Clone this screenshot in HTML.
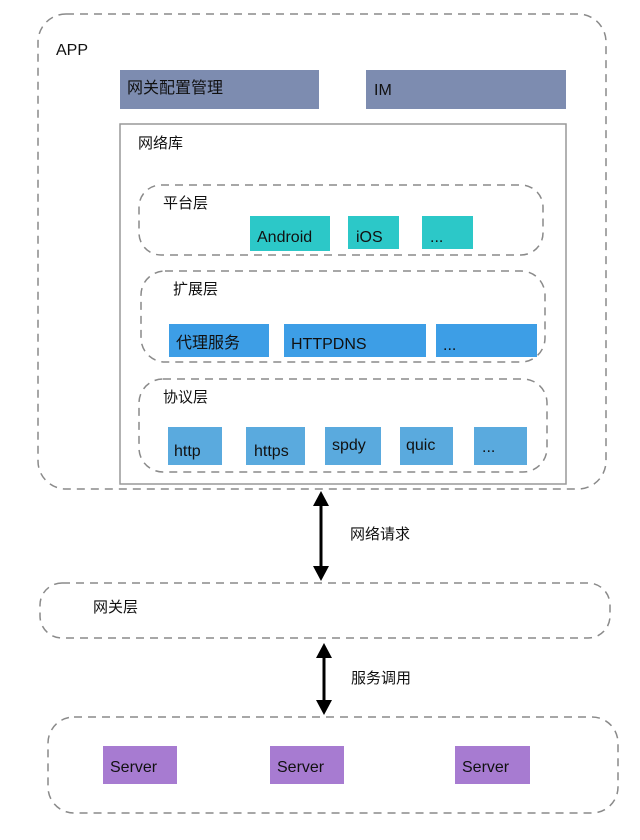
<!DOCTYPE html>
<html><head><meta charset="utf-8"><style>
body{margin:0;background:#fff;width:640px;height:835px;overflow:hidden;font-family:"Liberation Sans","Noto Sans CJK SC",sans-serif;}
</style></head><body>
<svg width="640" height="835" xmlns="http://www.w3.org/2000/svg" font-family="Liberation Sans, Noto Sans CJK SC, sans-serif">
<g fill="none" stroke="#8a8a8a" stroke-width="1.5" stroke-dasharray="8,6">
<rect x="38" y="14" width="568" height="475" rx="28"/>
<rect x="139" y="185" width="404" height="70" rx="22"/>
<rect x="141" y="271" width="404" height="91" rx="24"/>
<rect x="139" y="379" width="408" height="93" rx="24"/>
<rect x="40" y="583" width="570" height="55" rx="22"/>
<rect x="48" y="717" width="570" height="96" rx="26"/>
</g>
<rect x="120" y="124" width="446" height="360" fill="none" stroke="#999" stroke-width="1.5"/>
<text x="56" y="55" font-size="16" fill="#111">APP</text>
<rect x="120" y="70" width="199" height="39" fill="#7d8cb0"/>
<rect x="366" y="70" width="200" height="39" fill="#7d8cb0"/>
<text x="127" y="93" font-size="16" fill="#111">网关配置管理</text>
<text x="374" y="95" font-size="16" fill="#111">IM</text>
<text x="138" y="148" font-size="15" fill="#111">网络库</text>
<text x="163" y="208" font-size="15" fill="#111">平台层</text>
<rect x="250" y="216" width="80" height="35" fill="#2cc8c8"/>
<rect x="348" y="216" width="51" height="33" fill="#2cc8c8"/>
<rect x="422" y="216" width="51" height="33" fill="#2cc8c8"/>
<text x="257" y="242" font-size="16" fill="#111">Android</text>
<text x="356" y="242" font-size="16" fill="#111">iOS</text>
<text x="430" y="242" font-size="16" fill="#111">...</text>
<text x="173" y="294" font-size="15" fill="#111">扩展层</text>
<rect x="169" y="324" width="100" height="33" fill="#3d9ee6"/>
<rect x="284" y="324" width="142" height="33" fill="#3d9ee6"/>
<rect x="436" y="324" width="101" height="33" fill="#3d9ee6"/>
<text x="176" y="348" font-size="16" fill="#111">代理服务</text>
<text x="291" y="349" font-size="16" fill="#111">HTTPDNS</text>
<text x="443" y="350" font-size="16" fill="#111">...</text>
<text x="163" y="402" font-size="15" fill="#111">协议层</text>
<rect x="168" y="427" width="54" height="38" fill="#5aaade"/>
<rect x="246" y="427" width="59" height="38" fill="#5aaade"/>
<rect x="325" y="427" width="56" height="38" fill="#5aaade"/>
<rect x="400" y="427" width="53" height="38" fill="#5aaade"/>
<rect x="474" y="427" width="53" height="38" fill="#5aaade"/>
<text x="174" y="456" font-size="16" fill="#111">http</text>
<text x="254" y="456" font-size="16" fill="#111">https</text>
<text x="332" y="450" font-size="16" fill="#111">spdy</text>
<text x="406" y="450" font-size="16" fill="#111">quic</text>
<text x="482" y="452" font-size="16" fill="#111">...</text>
<line x1="321" y1="500" x2="321" y2="570" stroke="#000" stroke-width="3"/>
<polygon points="321,491 313,506 329,506" fill="#000"/>
<polygon points="321,581 313,566 329,566" fill="#000"/>
<text x="350" y="539" font-size="15" fill="#111">网络请求</text>
<text x="93" y="612" font-size="15" fill="#111">网关层</text>
<line x1="324" y1="652" x2="324" y2="706" stroke="#000" stroke-width="3"/>
<polygon points="324,643 316,658 332,658" fill="#000"/>
<polygon points="324,715 316,700 332,700" fill="#000"/>
<text x="351" y="683" font-size="15" fill="#111">服务调用</text>
<rect x="103" y="746" width="74" height="38" fill="#a77bd1"/>
<rect x="270" y="746" width="74" height="38" fill="#a77bd1"/>
<rect x="455" y="746" width="75" height="38" fill="#a77bd1"/>
<text x="110" y="772" font-size="16" fill="#111">Server</text>
<text x="277" y="772" font-size="16" fill="#111">Server</text>
<text x="462" y="772" font-size="16" fill="#111">Server</text>
</svg>
</body></html>
